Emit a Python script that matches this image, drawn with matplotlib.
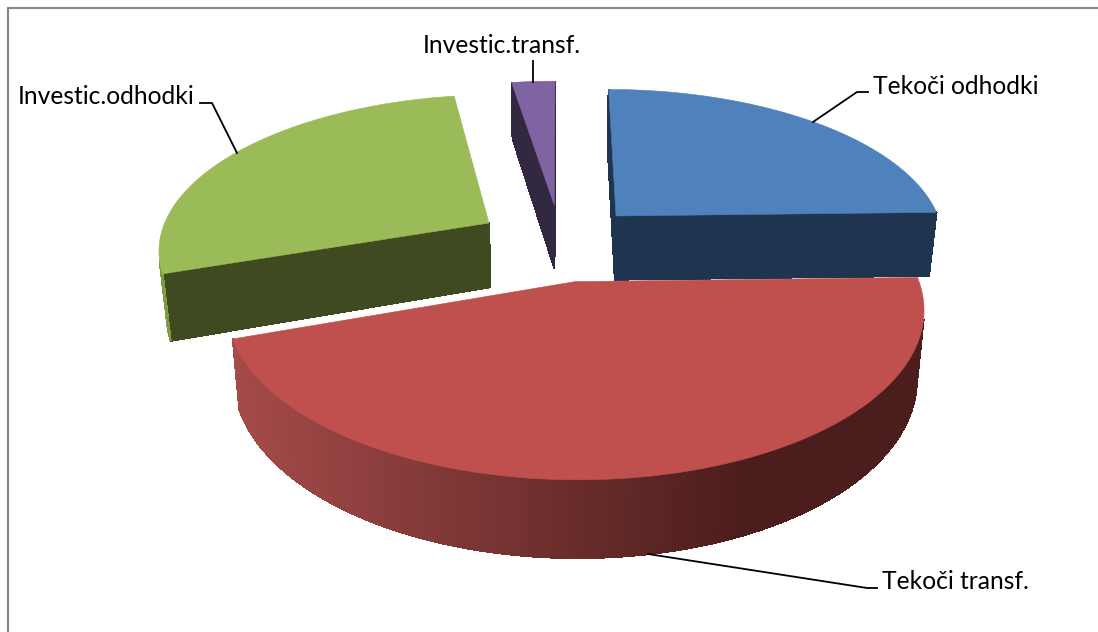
import numpy as np
import matplotlib
matplotlib.use("Agg")
import matplotlib.pyplot as plt
from matplotlib.colors import to_rgb

# Data (share of total, %)
labels = ["Tekoči odhodki", "Tekoči transf.", "Investic.odhodki", "Investic.transf."]
values = [24.6, 45.1, 27.8, 2.5]
top_colors = ["#4f81bd", "#c0504d", "#9bbb59", "#8064a2"]
cut_colors = ["#1f344e", "#4b1d1c", "#3f4a21", "#322842"]
wall_colors = ["#1f344e", None, "#7f9c45", "#322842"]
explode_x = [0.174, 0.044, -0.219, -0.018]
explode_y = [0.161, -0.261, 0.113, 0.237]
draw_order = [3, 2, 0, 1]

# Projection of the tilted pie
CX, CY, A, B, K, H, SHRINK = 560.0, 240.0, 330.0, 153.0, 0.155, 65.0, 0.98


def project(x, y):
    w = 1 + K * y
    return CX + A * x / w, CY - B * y / w


def lower(sx, sy, y):
    w = 1 + K * y
    return CX + (sx - CX) * SHRINK, sy + H / w ** 0.85


fig = plt.figure(figsize=(10.98, 6.32), dpi=100, facecolor="white")
ax = fig.add_axes([0, 0, 1, 1])
ax.set_xlim(0, 1098)
ax.set_ylim(632, 0)
ax.axis("off")

ax.plot([8, 8, 1098], [632, 7.5, 7.5], color="#868686", lw=1.5, zorder=1,
        solid_joinstyle="miter")

edges = np.cumsum([0] + values) / sum(values) * 2 * np.pi
RED_L, RED_R = np.array(to_rgb("#a54b49")), np.array(to_rgb("#4b1d1c"))

z = 2
for i in draw_order:
    th = np.linspace(edges[i], edges[i + 1], max(int(np.degrees(edges[i + 1] - edges[i])) * 2, 6) + 1)
    wx = np.r_[explode_x[i], explode_x[i] + np.sin(th), explode_x[i]]
    wy = np.r_[explode_y[i], explode_y[i] + np.cos(th), explode_y[i]]
    sx, sy = project(wx, wy)
    bx, by = lower(sx, sy, wy)
    n = len(sx) - 1
    for j in range(n):
        q = np.array([[sx[j], sy[j]], [sx[j + 1], sy[j + 1]], [bx[j + 1], by[j + 1]], [bx[j], by[j]]])
        xs, ys = q[:, 0], q[:, 1]
        area = np.sum(xs * np.roll(ys, -1) - np.roll(xs, -1) * ys)
        if area >= 0:
            continue
        radial = j == 0 or j == n - 1
        if radial:
            c = cut_colors[i]
        elif wall_colors[i] is None:
            t = np.clip((xs.mean() - 235) / (745 - 235), 0, 1)
            c = tuple(RED_L + (RED_R - RED_L) * t)
        else:
            c = wall_colors[i]
        ax.fill(xs, ys, facecolor=c, edgecolor=c, lw=0.8, antialiased=False, zorder=z)
    z += 1
    ax.fill(sx, sy, facecolor=top_colors[i], edgecolor=top_colors[i], lw=0.4, zorder=z)
    z += 1

# Labels and leader lines
lead_x = [[813, 857, 868], [648, 867, 877], [237, 212, 200], [533, 533]]
lead_y = [[122, 92, 92], [554, 588, 588], [153, 103, 103], [82, 61]]
label_x = [873, 882, 18, 423]
label_y = [94, 589, 104, 53]
for i in range(4):
    ax.plot(lead_x[i], lead_y[i], color="black", lw=1.3, zorder=50)
    ax.text(label_x[i], label_y[i], labels[i], family="Lato", fontsize=17.7,
            color="black", ha="left", va="baseline", zorder=51)

fig.savefig("out.png", dpi=100)
